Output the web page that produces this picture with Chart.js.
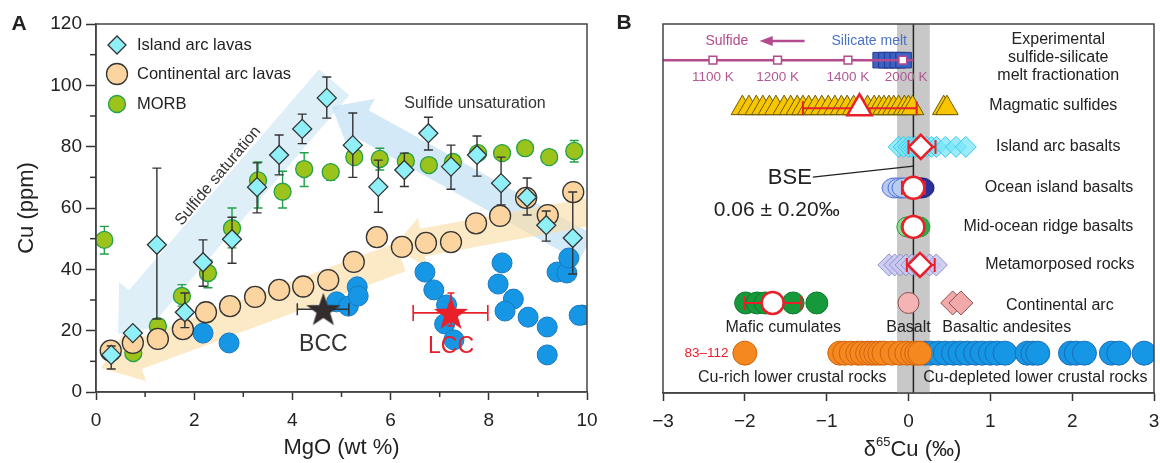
<!DOCTYPE html>
<html><head><meta charset="utf-8">
<script src="https://cdn.jsdelivr.net/npm/chart.js@4.4.0/dist/chart.umd.min.js"></script>
<style>
html,body{margin:0;padding:0;background:#fff;}
#wrap{position:relative;width:1160px;height:463px;overflow:hidden;background:#fff;}
canvas{position:absolute;top:0;}
#ca{left:0;width:600px;height:463px;} #cb{left:600px;width:560px;height:463px;}
</style></head><body>
<div id="wrap"><canvas id="ca" width="600" height="463"></canvas><canvas id="cb" width="560" height="463"></canvas></div>
<script>
// ---------------- Panel A data (MgO wt%, Cu ppm) ----------------
const iaMgO  = [0.31,0.75,1.24,1.81,2.18,2.77,3.28,3.73,4.2,4.7,5.23,5.75,6.28,6.77,7.23,7.76,8.25,8.78,9.17,9.71];
const iaCu   = [12.1,19.2,48,26,42.3,49.8,66.8,77.3,85.8,95.9,80.5,66.9,72.4,84.4,73.5,77.3,68.1,63.5,54.4,50.2];
const iaCuLo = [7.5,null,23.8,21,34.5,42,58.4,70.8,81,89.3,70,58.6,67,78.9,66.1,70.4,61,57.7,49.2,38.5];
const iaCuHi = [15,null,73,32.3,49.6,57,74.7,83.8,90.6,102.7,91,75.6,77.9,89.6,80.5,83.5,76.6,69.8,59,65.2];

const caMgO = [0.3,0.75,1.26,1.77,2.24,2.73,3.24,3.73,4.22,4.73,5.25,5.72,6.23,6.72,7.23,7.74,8.23,8.76,9.2,9.72];
const caCu  = [13.5,16,17.3,20.5,26,28,31,33.3,34.4,36.5,42.4,50.5,47.3,48.6,48.9,55,57.4,63.3,57.7,65.2];

const morbMgO  = [0.17,0.76,1.26,1.75,2.28,2.77,3.3,3.8,4.24,4.78,5.26,5.78,6.31,6.78,7.27,7.78,8.27,8.74,9.23,9.74];
const morbCu   = [49.6,12.7,21.5,31.3,38.8,53.4,69,65.3,72.7,71.7,76.6,76,75.3,74,75,77.9,77.9,79.5,76.6,78.6];
const morbCuLo = [45,null,20,28,34,47,60,60,67,69,null,72.4,null,null,null,null,null,null,null,75];
const morbCuHi = [54,null,23,35,43,60,75,72,78,74,null,79.5,null,null,null,null,null,null,null,82];

const lcMgO = [2.18,2.71,4.9,5.14,5.32,5.34,6.7,6.88,7.14,7.1,7.29,8.27,8.19,8.5,8.33,8.8,9.19,9.19,9.39,9.59,9.63,9.9,9.84];
const lcCu  = [19.2,16,29.4,28,34.3,31.3,39.1,33.3,28.4,22.2,17,42.1,35.2,30.3,26.4,24.4,21.2,12.1,39.1,38.8,43.7,25.1,25];

const bccMgO = [4.63], bccCu = [27], bccMgOLo = [4.1], bccMgOHi = [5.15], bccCuLo = [25.5], bccCuHi = [28.5];
const lccMgO = [7.23], lccCu = [25.8], lccMgOLo = [6.46], lccMgOHi = [7.98], lccCuLo = [21.5], lccCuHi = [32.3];

const xTicksA = [0,2,4,6,8,10], xMinorA = [1,3,5,7,9];
const yTicksA = [0,20,40,60,80,100,120], yMinorA = [10,30,50,70,90,110];

// trend arrows [from MgO,Cu] -> [to MgO,Cu]
const arrowSat   = {from:[4.85,101], to:[0.45,19]};
const arrowUnsat = {from:[9.98,47], to:[4.8,93]};
const arrowCa1   = {from:[10.02,58.7], to:[6.05,47]};
const arrowCa2   = {from:[6.2,44], to:[0.1,7.8]};

// ---------------- Panel B data (δ65Cu ‰) ----------------
const bseMean = 0.06, bseErr = 0.20;
const tempLabels = ['1100 K','1200 K','1400 K','2000 K'];
const tempD65 = [-2.39,-1.6,-0.74,-0.07];
const meltD65 = [-0.34,-0.27,-0.2,-0.13,-0.06];
const sulfD65 = [-2.03,-1.95,-1.86,-1.78,-1.7,-1.62,-1.52,-1.44,-1.36,-1.29,-1.22,-1.14,-1.06,-0.98,-0.9,-0.82,-0.75,-0.67,-0.58,-0.5,-0.42,-0.36,-0.3,-0.24,-0.18,-0.12,-0.05,0.0,0.05,0.43,0.47];
const iabD65 = [-0.12,-0.06,0.0,0.04,0.08,0.12,0.18,0.22,0.28,0.34,0.45,0.58,0.7];
const oibLightD65 = [-0.17,-0.1,-0.05];
const oibDarkD65 = [0.12,0.16];
const morbD65 = [-0.02,0.03,0.1,0.14];
const metaD65 = [-0.24,-0.17,-0.1,-0.03,0.04,0.1,0.18,0.26,0.34];
const arcBasaltD65 = [0.0];
const arcAndesiteD65 = [0.54,0.64];
const maficD65 = [-1.99,-1.85,-1.75,-1.41,-1.12];
const lcRichD65 = [-2.0,-0.84,-0.78,-0.7,-0.62,-0.57,-0.5,-0.45,-0.4,-0.35,-0.3,-0.2,-0.1,-0.02,0.05,0.1,0.14];
const lcDepD65 = [0.2,0.27,0.36,0.45,0.55,0.63,0.72,0.82,0.9,1.0,1.08,1.18,1.45,1.52,1.58,1.98,2.05,2.15,2.48,2.57,2.88];
// group means with ranges: sulfides, IAB, OIB, MORB, metamorphosed, mafic cumulates
const meanD65 = [-0.6,0.15,0.06,0.06,0.14,-1.66];
const meanLo  = [-1.29,0.0,-0.08,0.06,-0.02,-2.0];
const meanHi  = [0.1,0.33,0.2,0.06,0.32,-1.31];
const xTicksB = [-3,-2,-1,0,1,2,3];

// row positions (vertical layout units, 0 bottom .. 10 top)
const rowExp=9.02, rowSulf=7.72, rowIab=6.67, rowOib=5.56, rowMorb=4.5, rowMeta=3.47, rowArc=2.44, rowLc=1.08;
const rowExpTxt=9.54, rowTemp=8.56, rowSub=1.76, rowBottom=0.43;

const FONT = '"Liberation Sans", Arial, Helvetica, sans-serif';
Chart.defaults.font.family = FONT;
Chart.defaults.color = '#222';

function txt(ctx, s, x, y, size, color, align, weight){
  ctx.save(); ctx.font = (weight||'') + ' ' + size + 'px ' + FONT; ctx.fillStyle = color||'#222';
  ctx.textAlign = align||'center'; ctx.textBaseline = 'middle'; ctx.fillText(s, x, y); ctx.restore();
}
function drawArrow(ctx,x0,y0,x1,y1,w,hw,hl,color){
  const dx=x1-x0, dy=y1-y0, L=Math.hypot(dx,dy), ux=dx/L, uy=dy/L, px=-uy, py=ux;
  const nx=x1-ux*hl, ny=y1-uy*hl;
  ctx.beginPath();
  ctx.moveTo(x0+px*w/2, y0+py*w/2); ctx.lineTo(nx+px*w/2, ny+py*w/2);
  ctx.lineTo(nx+px*hw/2, ny+py*hw/2); ctx.lineTo(x1,y1);
  ctx.lineTo(nx-px*hw/2, ny-py*hw/2); ctx.lineTo(nx-px*w/2, ny-py*w/2);
  ctx.lineTo(x0-px*w/2, y0-py*w/2); ctx.closePath(); ctx.fillStyle=color; ctx.fill();
}
function starImg(color, R, r){
  const s=Math.ceil(R*2+4), c=document.createElement('canvas'); c.width=s; c.height=s;
  const g=c.getContext('2d'); g.beginPath();
  for(let i=0;i<10;i++){ const a=-Math.PI/2+i*Math.PI/5, rr=i%2?r:R; g.lineTo(s/2+rr*Math.cos(a), s/2+rr*Math.sin(a)+1.5); }
  g.closePath(); g.fillStyle=color; g.fill(); return c;
}
function ellipseImg(fill, stroke, w, h){
  const c=document.createElement('canvas'); c.width=w+2; c.height=h+2; const g=c.getContext('2d');
  g.beginPath(); g.ellipse(c.width/2, c.height/2, w/2, h/2, 0, 0, Math.PI*2);
  g.fillStyle=fill; g.fill(); g.lineWidth=1; g.strokeStyle=stroke; g.stroke(); return c;
}
function vbar(ctx, x, y0, y1, cap){ ctx.beginPath(); ctx.moveTo(x,y0); ctx.lineTo(x,y1);
  ctx.moveTo(x-cap,y0); ctx.lineTo(x+cap,y0); ctx.moveTo(x-cap,y1); ctx.lineTo(x+cap,y1); ctx.stroke(); }
function hbar(ctx, y, x0, x1, cap){ ctx.beginPath(); ctx.moveTo(x0,y); ctx.lineTo(x1,y);
  ctx.moveTo(x0,y-cap); ctx.lineTo(x0,y+cap); ctx.moveTo(x1,y-cap); ctx.lineTo(x1,y+cap); ctx.stroke(); }
const pts = (xs, ys) => xs.map((v,i)=>({x:v, y:Array.isArray(ys)?ys[i]:ys}));
const noPad = s => { s.paddingLeft=0; s.paddingRight=0; s.paddingTop=0; s.paddingBottom=0; };

// ---------------- Panel A ----------------
const pluginA = {
  id:'pA',
  beforeDatasetsDraw(chart){
    const {ctx, chartArea:ca, scales:{x,y}} = chart;
    const P = (p)=>[x.getPixelForValue(p[0]), y.getPixelForValue(p[1])];
    ctx.save(); ctx.beginPath(); ctx.rect(ca.left,ca.top,ca.right-ca.left,ca.bottom-ca.top); ctx.clip();
    let a,b;
    [a,b]=[P(arrowSat.from),P(arrowSat.to)]; drawArrow(ctx,a[0],a[1],b[0],b[1],40,66,40,'rgba(205,230,244,0.65)');
    [a,b]=[P(arrowUnsat.from),P(arrowUnsat.to)]; drawArrow(ctx,a[0],a[1],b[0],b[1],30,56,34,'rgba(196,226,246,0.75)');
    [a,b]=[P(arrowCa1.from),P(arrowCa1.to)]; drawArrow(ctx,a[0],a[1],b[0],b[1],28,50,30,'rgba(250,222,168,0.65)');
    [a,b]=[P(arrowCa2.from),P(arrowCa2.to)]; drawArrow(ctx,a[0],a[1],b[0],b[1],30,56,38,'rgba(250,222,168,0.65)');
    ctx.restore();
    // arrow texts
    ctx.save(); ctx.translate(218,176); ctx.rotate(-50*Math.PI/180);
    txt(ctx,'Sulfide saturation',0,0,16,'#333'); ctx.restore();
    txt(ctx,'Sulfide unsaturation',475,104,16,'#333');
  },
  beforeDatasetDraw(chart, args){
    const {ctx, scales:{x,y}} = chart; const id = chart.data.datasets[args.index].id;
    ctx.save();
    if(id==='ia'){ ctx.strokeStyle='#333'; ctx.lineWidth=1.4;
      iaMgO.forEach((m,i)=>{ if(iaCuLo[i]==null) return; vbar(ctx,x.getPixelForValue(m),y.getPixelForValue(iaCuLo[i]),y.getPixelForValue(iaCuHi[i]),4.5); }); }
    if(id==='morb'){ ctx.strokeStyle='#22a04a'; ctx.lineWidth=1.4;
      morbMgO.forEach((m,i)=>{ if(morbCuLo[i]==null) return; vbar(ctx,x.getPixelForValue(m),y.getPixelForValue(morbCuLo[i]),y.getPixelForValue(morbCuHi[i]),4.5); }); }
    if(id==='bcc'){ ctx.strokeStyle='#333'; ctx.lineWidth=1.5;
      hbar(ctx,y.getPixelForValue(bccCu[0]),x.getPixelForValue(bccMgOLo[0]),x.getPixelForValue(bccMgOHi[0]),6);
      vbar(ctx,x.getPixelForValue(bccMgO[0]),y.getPixelForValue(bccCuLo[0]),y.getPixelForValue(bccCuHi[0]),3); }
    if(id==='lcc'){ ctx.strokeStyle='#e8202a'; ctx.lineWidth=1.6;
      hbar(ctx,y.getPixelForValue(lccCu[0]),x.getPixelForValue(lccMgOLo[0]),x.getPixelForValue(lccMgOHi[0]),8);
      vbar(ctx,x.getPixelForValue(lccMgO[0]),y.getPixelForValue(lccCuLo[0]),y.getPixelForValue(lccCuHi[0]),3.5); }
    ctx.restore();
  },
  afterDraw(chart){
    const {ctx, chartArea:ca, scales:{x,y}} = chart;
    ctx.save(); ctx.strokeStyle='#444'; ctx.lineWidth=1.5;
    ctx.strokeRect(ca.left, ca.top, ca.right-ca.left, ca.bottom-ca.top);
    ctx.strokeStyle='#333';
    xMinorA.forEach(v=>{ const px=x.getPixelForValue(v); ctx.beginPath(); ctx.moveTo(px,ca.bottom); ctx.lineTo(px,ca.bottom+5); ctx.stroke(); });
    yMinorA.forEach(v=>{ const py=y.getPixelForValue(v); ctx.beginPath(); ctx.moveTo(ca.left,py); ctx.lineTo(ca.left-6,py); ctx.stroke(); });
    ctx.restore();
    // legend
    ctx.save(); ctx.lineWidth=1.3; ctx.strokeStyle='#333';
    ctx.beginPath(); ctx.moveTo(108,45); ctx.lineTo(117,36); ctx.lineTo(126,45); ctx.lineTo(117,54); ctx.closePath(); ctx.fillStyle='#8ff0f8'; ctx.fill(); ctx.stroke();
    ctx.beginPath(); ctx.arc(117,74,10.5,0,Math.PI*2); ctx.fillStyle='#fbd4a0'; ctx.fill(); ctx.stroke();
    ctx.beginPath(); ctx.arc(117,104,8.5,0,Math.PI*2); ctx.fillStyle='#9cc31c'; ctx.fill(); ctx.strokeStyle='#22a04a'; ctx.stroke();
    ctx.restore();
    txt(ctx,'Island arc lavas',137,45,16.5,'#222','left');
    txt(ctx,'Continental arc lavas',137,74,16.5,'#222','left');
    txt(ctx,'MORB',137,104,16.5,'#222','left');
    // star labels
    txt(ctx,'BCC',x.getPixelForValue(bccMgO[0]),345,23,'#333');
    txt(ctx,'LCC',x.getPixelForValue(lccMgO[0]),347,23,'#e8202a');
    // axis titles
    txt(ctx,'MgO (wt %)',(ca.left+ca.right)/2,448,22,'#222');
    ctx.save(); ctx.translate(27,(ca.top+ca.bottom)/2); ctx.rotate(-Math.PI/2); txt(ctx,'Cu (ppm)',0,0,22,'#222'); ctx.restore();
    txt(ctx,'A',19,24,21,'#222','center','bold');
  }
};

const chartA = new Chart(document.getElementById('ca'), {
  type:'scatter',
  data:{datasets:[
    {id:'lc', data:pts(lcMgO,lcCu), pointStyle:'circle', pointRadius:10, backgroundColor:'#1597e5', borderColor:'#1a78c0', borderWidth:1, order:6},
    {id:'morb', data:pts(morbMgO,morbCu), pointStyle:'circle', pointRadius:8.5, backgroundColor:'#9cc31c', borderColor:'#22a04a', borderWidth:1.3, order:5},
    {id:'ca', data:pts(caMgO,caCu), pointStyle:'circle', pointRadius:10.5, backgroundColor:'#fbd4a0', borderColor:'#333', borderWidth:1.3, order:4},
    {id:'ia', data:pts(iaMgO,iaCu), pointStyle:'rectRot', pointRadius:9.5, backgroundColor:'#8ff0f8', borderColor:'#333', borderWidth:1.3, order:3},
    {id:'bcc', data:pts(bccMgO,bccCu), pointStyle:starImg('#332c2c',18,7.2), order:2},
    {id:'lcc', data:pts(lccMgO,lccCu), pointStyle:starImg('#e8202a',18,7.2), order:1}
  ]},
  options:{
    responsive:false, animation:false, devicePixelRatio:1, events:[],
    layout:{autoPadding:false, padding:{top:24,right:13,left:0,bottom:0}},
    plugins:{legend:{display:false}, tooltip:{enabled:false}},
    scales:{
      x:{type:'linear', min:0, max:10, afterBuildTicks:s=>{s.ticks=xTicksA.map(v=>({value:v}));},
         afterFit:s=>{s.height=71; noPad(s);},
         ticks:{font:{size:19}, color:'#222', padding:9, maxRotation:0},
         grid:{drawOnChartArea:false, drawTicks:true, tickLength:8, tickColor:'#333', tickWidth:1.5},
         border:{display:true, color:'#444', width:1.5}},
      y:{type:'linear', min:0, max:120, afterBuildTicks:s=>{s.ticks=yTicksA.map(v=>({value:v}));},
         afterFit:s=>{s.width=96; noPad(s);},
         ticks:{font:{size:19}, color:'#222', padding:4},
         grid:{drawOnChartArea:false, drawTicks:true, tickLength:10, tickColor:'#333', tickWidth:1.5},
         border:{display:true, color:'#444', width:1.5}}
    }
  },
  plugins:[pluginA]
});

// ---------------- Panel B ----------------
const pluginB = {
  id:'pB',
  beforeDatasetsDraw(chart){
    const {ctx, chartArea:ca, scales:{x,y}} = chart;
    ctx.save();
    const a=x.getPixelForValue(bseMean-bseErr), b=x.getPixelForValue(bseMean+bseErr);
    ctx.fillStyle='#c8c8c8'; ctx.fillRect(a, ca.top, b-a, ca.bottom-ca.top);
    const v=x.getPixelForValue(bseMean);
    ctx.strokeStyle='#222'; ctx.lineWidth=1.5;
    ctx.beginPath(); ctx.moveTo(v,ca.top); ctx.lineTo(v,ca.bottom); ctx.stroke();
    // BSE leader
    ctx.lineWidth=1.3;
    ctx.beginPath(); ctx.moveTo(x.getPixelForValue(-1.17), y.getPixelForValue(5.85)); ctx.lineTo(v, y.getPixelForValue(6.15)); ctx.stroke();
    ctx.restore();
  },
  beforeDatasetDraw(chart, args){
    const {ctx, chartArea:ca, scales:{x,y}} = chart; const id = chart.data.datasets[args.index].id;
    ctx.save();
    if(id==='temp'){ ctx.strokeStyle='#b44b8e'; ctx.lineWidth=2.5; const py=y.getPixelForValue(rowExp);
      ctx.beginPath(); ctx.moveTo(ca.left,py); ctx.lineTo(x.getPixelForValue(bseMean),py); ctx.stroke(); }
    if(id==='mean'){ ctx.strokeStyle='#e8202a'; ctx.lineWidth=2;
      const rows=[rowSulf,rowIab,rowOib,rowMorb,rowMeta,rowArc];
      meanD65.forEach((m,i)=>{ if(meanHi[i]-meanLo[i]<0.01) return; hbar(ctx,y.getPixelForValue(rows[i]),x.getPixelForValue(meanLo[i]),x.getPixelForValue(meanHi[i]),7); }); }
    ctx.restore();
  },
  afterDraw(chart){
    const {ctx, chartArea:ca, scales:{x,y}} = chart;
    const X=v=>x.getPixelForValue(v), Y=v=>y.getPixelForValue(v);
    ctx.save(); ctx.strokeStyle='#444'; ctx.lineWidth=1.5;
    ctx.strokeRect(ca.left, ca.top, ca.right-ca.left, ca.bottom-ca.top); ctx.restore();
    // experimental labels
    txt(ctx,'Sulfide',X(-2.22),Y(rowExpTxt),14,'#b44b8e');
    ctx.save(); ctx.strokeStyle='#b44b8e'; ctx.fillStyle='#b44b8e'; ctx.lineWidth=2.5;
    const ay=Y(rowExpTxt); ctx.beginPath(); ctx.moveTo(X(-1.27),ay); ctx.lineTo(X(-1.7),ay); ctx.stroke();
    ctx.beginPath(); ctx.moveTo(X(-1.82),ay); ctx.lineTo(X(-1.66),ay-5); ctx.lineTo(X(-1.66),ay+5); ctx.closePath(); ctx.fill(); ctx.restore();
    txt(ctx,'Silicate melt',X(-0.48),Y(rowExpTxt),14,'#4a72c4');
    tempLabels.forEach((l,i)=>txt(ctx,l,X(tempD65[i]+(i===3?0.04:0)),Y(rowTemp),13.5,'#b05a95'));
    // right labels
    txt(ctx,'Experimental',X(1.83),Y(9.59),16,'#222');
    txt(ctx,'sulfide-silicate',X(1.83),Y(9.1),16,'#222');
    txt(ctx,'melt fractionation',X(1.83),Y(8.59),16,'#222');
    txt(ctx,'Magmatic sulfides',X(1.77),Y(7.8),16,'#222');
    txt(ctx,'Island arc basalts',X(1.83),Y(rowIab),16,'#222');
    txt(ctx,'Ocean island basalts',X(1.84),Y(rowOib),16,'#222');
    txt(ctx,'Mid-ocean ridge basalts',X(1.71),Y(rowMorb),16,'#222');
    txt(ctx,'Metamorposed rocks',X(1.85),Y(rowMeta),16,'#222');
    txt(ctx,'Continental arc',X(1.85),Y(2.38),16,'#222');
    txt(ctx,'Mafic cumulates',X(-1.53),Y(rowSub),16,'#222');
    txt(ctx,'Basalt',X(0.0),Y(rowSub),16,'#222');
    txt(ctx,'Basaltic andesites',X(1.2),Y(rowSub),16,'#222');
    txt(ctx,'Cu-rich lower crustal rocks',X(-1.42),Y(rowBottom),16,'#222');
    txt(ctx,'Cu-depleted lower crustal rocks',X(1.55),Y(rowBottom),16,'#222');
    txt(ctx,'83–112',X(-2.2),Y(rowLc),13.5,'#e8202a','right');
    // BSE
    txt(ctx,'BSE',X(-1.45),Y(5.83),22,'#222');
    txt(ctx,bseMean.toFixed(2)+' ± '+bseErr.toFixed(2)+'‰',X(-1.61),Y(4.96),21,'#222');
    // axis title δ65Cu (‰)
    ctx.save(); ctx.fillStyle='#222'; ctx.textBaseline='alphabetic'; ctx.textAlign='left';
    const f1='22px '+FONT, f2='13px '+FONT;
    ctx.font=f1; const w1=ctx.measureText('δ').width, w3=ctx.measureText('Cu (‰)').width;
    ctx.font=f2; const w2=ctx.measureText('65').width;
    const cx=(ca.left+ca.right)/2+4, base=456; let sx=cx-(w1+w2+w3)/2;
    ctx.font=f1; ctx.fillText('δ',sx,base); sx+=w1;
    ctx.font=f2; ctx.fillText('65',sx,base-10); sx+=w2;
    ctx.font=f1; ctx.fillText('Cu (‰)',sx,base); ctx.restore();
    txt(ctx,'B',24,23,21,'#222','center','bold');
  }
};

const oibLight = ellipseImg('#b9cdf0','#4a6ad0',25,20);
const oibDark = ellipseImg('#2a2f9a','#1a1f70',25,20);

const chartB = new Chart(document.getElementById('cb'), {
  type:'scatter',
  data:{datasets:[
    {id:'melt', data:pts(meltD65,rowExp), pointStyle:'rect', pointRadius:11, backgroundColor:'#3b63c6', borderColor:'#25388c', borderWidth:1, order:12},
    {id:'temp', data:pts(tempD65,rowExp), pointStyle:'rect', pointRadius:5.5, backgroundColor:'#fff', borderColor:'#b44b8e', borderWidth:1.5, order:11},
    {id:'sulf', data:pts(sulfD65,rowSulf), pointStyle:'triangle', pointRadius:13, backgroundColor:'#f7c600', borderColor:'#6e5a00', borderWidth:1, order:8},
    {id:'iab', data:pts(iabD65,rowIab), pointStyle:'rectRot', pointRadius:10.5, backgroundColor:'rgba(120,230,248,0.75)', borderColor:'#38c8ec', borderWidth:1, order:8},
    {id:'oibD', data:pts(oibDarkD65,rowOib), pointStyle:oibDark, order:9},
    {id:'oibL', data:pts(oibLightD65,rowOib), pointStyle:oibLight, order:8},
    {id:'morbB', data:pts(morbD65,rowMorb), pointStyle:'circle', pointRadius:10, backgroundColor:['#8fd68f','#6cc86c','#2fa84a','#2fa84a'], borderColor:'#2a9a3a', borderWidth:1, order:8},
    {id:'meta', data:pts(metaD65,rowMeta), pointStyle:'rectRot', pointRadius:11, backgroundColor:'rgba(200,200,240,0.85)', borderColor:'#9090cc', borderWidth:1, order:8},
    {id:'arcB', data:pts(arcBasaltD65,rowArc), pointStyle:'circle', pointRadius:10.5, backgroundColor:'#f4b4b4', borderColor:'#8a5050', borderWidth:1, order:8},
    {id:'arcA', data:pts(arcAndesiteD65,rowArc), pointStyle:'rectRot', pointRadius:12, backgroundColor:'#f2a9a9', borderColor:'#8a5050', borderWidth:1, order:8},
    {id:'mafic', data:pts(maficD65,rowArc), pointStyle:'circle', pointRadius:11, backgroundColor:'#15993a', borderColor:'#0e7a2a', borderWidth:1, order:8},
    {id:'lcDep', data:pts(lcDepD65,rowLc), pointStyle:'circle', pointRadius:12, backgroundColor:'#1597e5', borderColor:'#1a6cb8', borderWidth:1, order:9},
    {id:'lcRich', data:pts(lcRichD65,rowLc), pointStyle:'circle', pointRadius:12, backgroundColor:'#f5891f', borderColor:'#d0620f', borderWidth:1, order:8},
    {id:'mean', data:pts(meanD65,[rowSulf,rowIab,rowOib,rowMorb,rowMeta,rowArc]),
     pointStyle:['triangle','rectRot','circle','circle','rectRot','circle'], pointRadius:[14,12,11,11,12,11],
     backgroundColor:'#fff', borderColor:'#e8202a', borderWidth:2.5, order:0}
  ]},
  options:{
    responsive:false, animation:false, devicePixelRatio:1, events:[],
    layout:{autoPadding:false, padding:{top:24,right:6,left:63,bottom:0}},
    plugins:{legend:{display:false}, tooltip:{enabled:false}},
    scales:{
      x:{type:'linear', min:-3, max:3, afterBuildTicks:s=>{s.ticks=xTicksB.map(v=>({value:v}));},
         afterFit:s=>{s.height=70; noPad(s);},
         ticks:{font:{size:19}, color:'#222', padding:9, maxRotation:0, callback:v=>v<0?'−'+Math.abs(v):String(v)},
         grid:{drawOnChartArea:false, drawTicks:true, tickLength:8, tickColor:'#333', tickWidth:1.5},
         border:{display:true, color:'#444', width:1.5}},
      y:{type:'linear', min:0, max:10, display:false}
    }
  },
  plugins:[pluginB]
});
</script></body></html>
